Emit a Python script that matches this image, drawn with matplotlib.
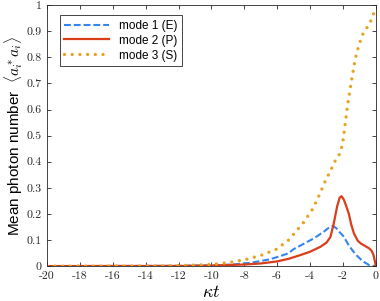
"""Mean photon number of the three modes vs. kappa*t."""
import matplotlib
matplotlib.use("Agg")
import matplotlib.pyplot as plt
from matplotlib.ticker import FixedLocator, FuncFormatter

plt.rcParams["mathtext.fontset"] = "cm"
plt.rcParams["font.family"] = ["Liberation Sans", "DejaVu Sans"]

# mode 1 (E)
x_e = [-20, -12, -10, -8.7, -7.56, -6.44, -5.83, -5.32, -5.0, -4.4, -3.78,
       -3.2, -2.8, -2.6, -2.4, -2.2, -1.94, -1.7, -1.43, -1.2, -0.92, -0.7,
       -0.41, -0.2, 0]
y_e = [0, 0.001, 0.003, 0.006, 0.013, 0.026, 0.038, 0.049, 0.065, 0.085,
       0.106, 0.13, 0.15, 0.153, 0.145, 0.13, 0.112, 0.085, 0.061, 0.043,
       0.026, 0.015, 0.004, 0.001, 0]

# mode 2 (P)
x_p = [-20, -12, -10, -8, -7, -6, -5.3, -4.6, -4, -3.37, -3, -2.76, -2.56,
       -2.35, -2.2, -2.09, -1.95, -1.8, -1.64, -1.5, -1.33, -1.1, -0.92,
       -0.6, -0.41, -0.25, -0.14, -0.06, 0]
y_p = [0, 0.0005, 0.002, 0.006, 0.01, 0.018, 0.028, 0.042, 0.055, 0.074,
       0.09, 0.112, 0.163, 0.23, 0.262, 0.268, 0.255, 0.23, 0.20, 0.16,
       0.125, 0.097, 0.087, 0.075, 0.068, 0.058, 0.042, 0.02, 0]

# mode 3 (S)
x_s = [-20, -14, -12, -10, -9.7, -8.8, -7.87, -6.95, -6.07, -5.3, -4.4,
       -3.85, -3.44, -3.07, -2.8, -2.5, -2.2, -2.07, -1.98, -1.86, -1.74,
       -1.6, -1.45, -1.29, -1.19, -1.06, -0.92, -0.76, -0.47, -0.25, -0.1, 0]
y_s = [0, 0.0005, 0.002, 0.006, 0.008, 0.015, 0.026, 0.042, 0.064, 0.10,
       0.167, 0.218, 0.272, 0.327, 0.36, 0.40, 0.43, 0.457, 0.487, 0.547,
       0.605, 0.664, 0.722, 0.78, 0.81, 0.839, 0.867, 0.894, 0.92, 0.946,
       0.974, 0.99]

labels = ["mode 1 (E)", "mode 2 (P)", "mode 3 (S)"]
colors = ["#3385f0", "#d93d1a", "#e8a322"]

x_ticks = list(range(-20, 1, 2))
y_ticks = [round(0.1 * i, 1) for i in range(11)]

fig = plt.figure(figsize=(3.8, 3.01), dpi=100)
ax = fig.add_axes([0.124, 0.116, 0.865, 0.867])

ax.plot(x_e, y_e, color=colors[0], lw=1.5, ls=(0, (3.3, 1.4)), label=labels[0])
ax.plot(x_p, y_p, color=colors[1], lw=1.6, label=labels[1])
ax.plot(x_s, y_s, color=colors[2], lw=2.4, ls=(0, (0.01, 2.3)),
        dash_capstyle="round", label=labels[2])

ax.set_xlim(-20, 0)
ax.set_ylim(0, 1)
ax.xaxis.set_major_locator(FixedLocator(x_ticks))
ax.yaxis.set_major_locator(FixedLocator(y_ticks))
ax.xaxis.set_major_formatter(FuncFormatter(lambda v, p: f"{v:g}"))
ax.yaxis.set_major_formatter(FuncFormatter(lambda v, p: f"{v:g}"))
for lab in ax.get_xticklabels() + ax.get_yticklabels():
    lab.set_family("cmr10")
    lab.set_fontsize(8.5)
ax.tick_params(direction="in", top=True, right=True, length=3,
               width=0.6, color="#262626", pad=4, labelcolor="#262626")
for sp in ax.spines.values():
    sp.set_color("#262626")
    sp.set_linewidth(0.6)

ax.set_xlabel(r"$\kappa t$", fontsize=13, labelpad=2)
ax.set_ylabel(r"Mean photon number  $\langle a_i^* a_i\rangle$", fontsize=11,
              labelpad=1)

leg = ax.legend(loc="upper left", fontsize=8.5, handlelength=3.8,
                fancybox=False, framealpha=1, borderpad=0.4,
                labelspacing=0.25, bbox_to_anchor=(0.02, 0.985))
leg.get_frame().set_edgecolor("#262626")
leg.get_frame().set_linewidth(0.6)

fig.savefig("out.png", dpi=100)
